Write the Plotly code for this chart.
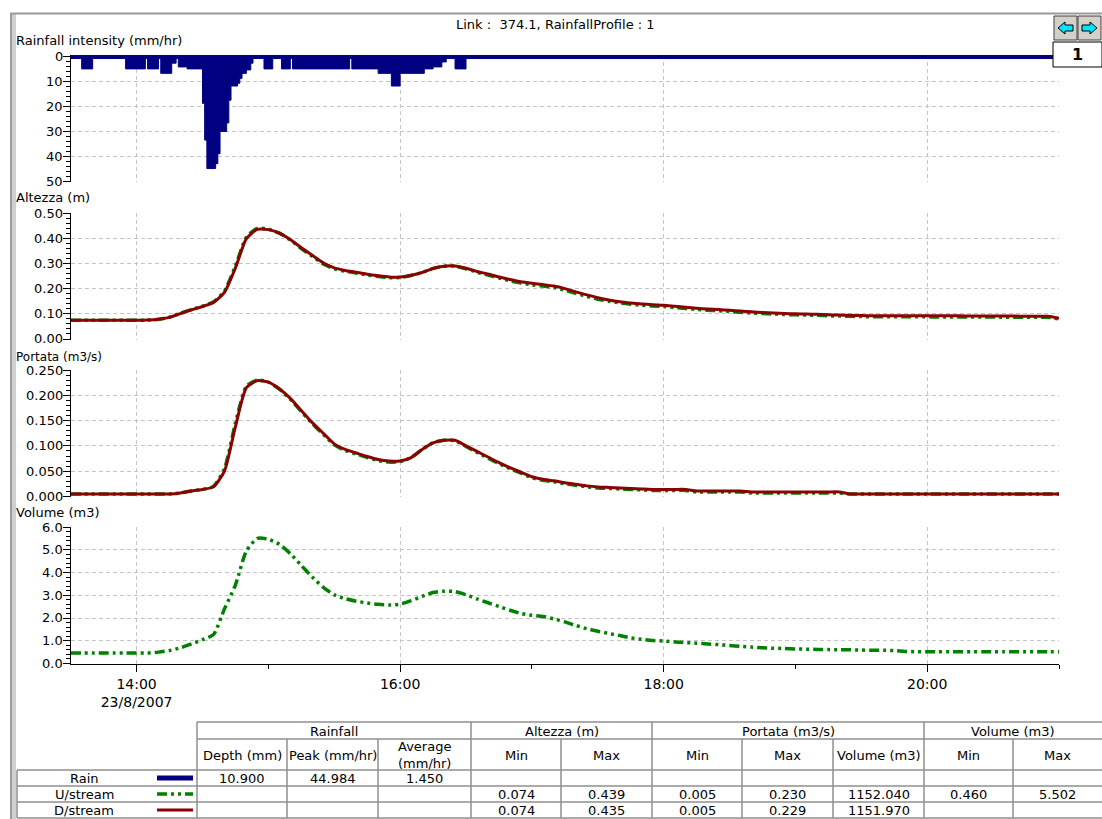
import pandas as pd
import plotly.graph_objects as go

W, H = 1102, 819
DAY = "2007-08-23 "
FONT = "DejaVu Sans"

# ---------------- data ----------------
# Rainfall profile: each intensity (mm/hr) holds from its start time to the next one
rain_start = ["13:30", "13:35", "13:40", "13:55", "14:04", "14:05", "14:10", "14:11",
              "14:16", "14:18", "14:19", "14:23", "14:30", "14:31", "14:32", "14:36",
              "14:37", "14:38", "14:41", "14:42", "14:43", "14:46", "14:47", "14:48",
              "14:50", "14:52", "14:53", "14:58", "15:02", "15:06", "15:10", "15:11",
              "15:37", "15:38", "15:50", "15:56", "16:00", "16:11", "16:15", "16:19",
              "16:21", "16:25", "16:30", "21:00"]
rain_mmhr = [0, 4.8, 0, 4.8, 0, 4.8, 0, 6.6,
             2.5, 0, 4.0, 4.8, 18.7, 33.5, 44.984, 43.0,
             39.0, 30.0, 26.6, 17.4, 11.7, 10.6, 8.6, 6.6,
             5.2, 2.5, 0, 4.8, 0, 4.8, 0, 4.8,
             0, 4.8, 6.6, 11.7, 6.6, 4.8, 4.0, 2.0,
             0, 4.8, 0, 0]

# Simulation results every 5 minutes, 13:30 - 21:00
flow_time = pd.date_range(DAY + "13:30", DAY + "21:00", freq="5min")

depth_us = [0.074, 0.074, 0.074, 0.074, 0.074, 0.074, 0.074, 0.075, 0.078, 0.087,
            0.102, 0.117, 0.130, 0.147, 0.190, 0.290, 0.404, 0.439, 0.436, 0.420,
            0.393, 0.359, 0.328, 0.298, 0.278, 0.269, 0.262, 0.254, 0.248, 0.243,
            0.244, 0.252, 0.264, 0.280, 0.289, 0.289, 0.279, 0.265, 0.254, 0.242,
            0.231, 0.222, 0.215, 0.210, 0.204, 0.194, 0.181, 0.169, 0.158, 0.150,
            0.143, 0.138, 0.134, 0.131, 0.129, 0.125, 0.121, 0.117, 0.114, 0.112,
            0.109, 0.106, 0.103, 0.101, 0.099, 0.097, 0.096, 0.095, 0.094, 0.092,
            0.091, 0.090, 0.089, 0.088, 0.088, 0.088, 0.088, 0.088, 0.088, 0.087,
            0.087, 0.087, 0.087, 0.087, 0.087, 0.086, 0.086, 0.086, 0.086, 0.086,
            0.080]
depth_ds = [0.074, 0.074, 0.074, 0.074, 0.074, 0.074, 0.074, 0.075, 0.078, 0.086,
            0.101, 0.116, 0.129, 0.145, 0.185, 0.282, 0.398, 0.435, 0.434, 0.420,
            0.395, 0.362, 0.332, 0.302, 0.282, 0.272, 0.265, 0.257, 0.251, 0.246,
            0.246, 0.253, 0.264, 0.280, 0.289, 0.290, 0.281, 0.268, 0.258, 0.246,
            0.236, 0.227, 0.221, 0.216, 0.210, 0.200, 0.187, 0.175, 0.164, 0.155,
            0.148, 0.143, 0.139, 0.136, 0.134, 0.130, 0.126, 0.122, 0.119, 0.117,
            0.114, 0.111, 0.108, 0.105, 0.103, 0.101, 0.100, 0.099, 0.098, 0.096,
            0.095, 0.094, 0.093, 0.092, 0.092, 0.092, 0.092, 0.092, 0.092, 0.092,
            0.092, 0.092, 0.091, 0.091, 0.091, 0.091, 0.091, 0.090, 0.090, 0.090,
            0.082]

flow_us = [0.005, 0.005, 0.005, 0.005, 0.005, 0.005, 0.005, 0.005, 0.005, 0.005,
           0.007, 0.011, 0.014, 0.020, 0.055, 0.145, 0.218, 0.230, 0.226, 0.212,
           0.192, 0.168, 0.144, 0.123, 0.102, 0.091, 0.084, 0.077, 0.071, 0.068,
           0.069, 0.077, 0.093, 0.106, 0.111, 0.110, 0.099, 0.087, 0.076, 0.065,
           0.055, 0.046, 0.037, 0.032, 0.029, 0.025, 0.022, 0.019, 0.017, 0.016,
           0.015, 0.014, 0.013, 0.012, 0.012, 0.012, 0.012, 0.009, 0.009, 0.009,
           0.009, 0.009, 0.007, 0.007, 0.007, 0.007, 0.007, 0.007, 0.007, 0.007,
           0.007, 0.005, 0.005, 0.005, 0.005, 0.005, 0.005, 0.005, 0.005, 0.005,
           0.005, 0.005, 0.005, 0.005, 0.005, 0.005, 0.005, 0.005, 0.005, 0.005,
           0.005]
flow_ds = [0.005, 0.005, 0.005, 0.005, 0.005, 0.005, 0.005, 0.005, 0.005, 0.005,
           0.007, 0.011, 0.014, 0.019, 0.050, 0.138, 0.215, 0.229, 0.226, 0.213,
           0.194, 0.170, 0.146, 0.125, 0.104, 0.093, 0.086, 0.079, 0.073, 0.070,
           0.070, 0.077, 0.093, 0.106, 0.111, 0.111, 0.100, 0.089, 0.078, 0.067,
           0.057, 0.048, 0.039, 0.034, 0.031, 0.027, 0.024, 0.021, 0.019, 0.018,
           0.017, 0.016, 0.015, 0.014, 0.014, 0.014, 0.014, 0.011, 0.011, 0.011,
           0.011, 0.011, 0.009, 0.009, 0.009, 0.009, 0.009, 0.009, 0.009, 0.009,
           0.009, 0.005, 0.005, 0.005, 0.005, 0.005, 0.005, 0.005, 0.005, 0.005,
           0.005, 0.005, 0.005, 0.005, 0.005, 0.005, 0.005, 0.005, 0.005, 0.005,
           0.005]

volume_us = [0.46, 0.46, 0.46, 0.46, 0.46, 0.46, 0.46, 0.46, 0.50, 0.57,
             0.69, 0.86, 1.05, 1.27, 2.40, 3.45, 4.95, 5.502, 5.46, 5.24,
             4.83, 4.31, 3.80, 3.35, 3.02, 2.85, 2.74, 2.66, 2.60, 2.57,
             2.61, 2.76, 2.95, 3.12, 3.18, 3.16, 3.02, 2.84, 2.67, 2.51,
             2.34, 2.20, 2.12, 2.07, 1.96, 1.83, 1.67, 1.53, 1.42, 1.32,
             1.23, 1.13, 1.06, 1.01, 0.99, 0.95, 0.92, 0.89, 0.86, 0.83,
             0.79, 0.75, 0.72, 0.69, 0.67, 0.66, 0.64, 0.63, 0.62, 0.61,
             0.60, 0.60, 0.59, 0.58, 0.58, 0.57, 0.53, 0.52, 0.52, 0.52,
             0.52, 0.52, 0.52, 0.52, 0.52, 0.52, 0.52, 0.52, 0.52, 0.52,
             0.52]

# Axis ticks
major_hours = ["14:00", "16:00", "18:00", "20:00"]
major_text = ["14:00<br>23/8/2007", "16:00", "18:00", "20:00"]
minor_hours = ["15:00", "17:00", "19:00", "21:00"]
rain_ticks = [0, 10, 20, 30, 40, 50]
depth_ticks = [0.0, 0.1, 0.2, 0.3, 0.4, 0.5]
flow_ticks = [0.0, 0.05, 0.10, 0.15, 0.20, 0.25]
volume_ticks = [0, 1, 2, 3, 4, 5, 6]

# Summary table
rain_summary = ["10.900", "44.984", "1.450"]
us_summary = ["0.074", "0.439", "0.005", "0.230", "1152.040", "0.460", "5.502"]
ds_summary = ["0.074", "0.435", "0.005", "0.229", "1151.970", "", ""]
group_heads = ["Rainfall", "Altezza (m)", "Portata (m3/s)", "Volume (m3)"]
col_heads = ["Depth (mm)", "Peak (mm/hr)", "Average<br>(mm/hr)", "Min", "Max",
             "Min", "Max", "Volume (m3)", "Min", "Max"]
row_labels = ["Rain", "U/stream", "D/stream"]

# ---------------- styling ----------------
NAVY = "#000080"
GREEN = "#008000"
RED = "#8b0000"
GRID = "#c4c4c4"
DASHDOT = "10px,4px,3px,4px,3px,4px"


def px(x):
    return x / W


def py(y):
    return 1 - y / H


def ts(hhmm):
    return pd.Timestamp(DAY + hhmm)


X_LEFT, X_RIGHT = 70.7, 1059
# panel vertical extents in page pixels (top, bottom)
panels = [(55, 181.5), (212.5, 339.5), (369.5, 497), (526.5, 664)]

fig = go.Figure()

rain_t = [ts(s) for s in rain_start]
fig.add_trace(go.Scatter(x=rain_t, y=rain_mmhr, mode="lines", line_shape="hv",
                         line=dict(color=NAVY, width=1), fill="tozeroy",
                         fillcolor=NAVY, xaxis="x", yaxis="y", hoverinfo="skip"))
fig.add_trace(go.Scatter(x=[ts("13:30"), ts("21:00")], y=[0, 0], mode="lines",
                         line=dict(color=NAVY, width=4), xaxis="x", yaxis="y",
                         hoverinfo="skip"))

for ys, yax in [((depth_us, depth_ds), "y2"), ((flow_us, flow_ds), "y3")]:
    xa = "x" + yax[1:]
    fig.add_trace(go.Scatter(x=flow_time, y=ys[0], mode="lines",
                             line=dict(color=GREEN, width=3.5, dash=DASHDOT,
                                       shape="spline", smoothing=0.6),
                             xaxis=xa, yaxis=yax, hoverinfo="skip"))
    fig.add_trace(go.Scatter(x=flow_time, y=ys[1], mode="lines",
                             line=dict(color=RED, width=3, shape="spline", smoothing=0.6),
                             xaxis=xa, yaxis=yax, hoverinfo="skip"))

fig.add_trace(go.Scatter(x=flow_time, y=volume_us, mode="lines",
                         line=dict(color=GREEN, width=3.5, dash=DASHDOT,
                                   shape="spline", smoothing=0.6),
                         xaxis="x4", yaxis="y4", hoverinfo="skip"))

tick_font = dict(family=FONT, size=14, color="black")
ylab_font = dict(family=FONT, size=13, color="black")
xrange = [ts("13:30"), ts("21:00")]
major_vals = [ts(h) for h in major_hours]
minor_vals = [ts(h) for h in minor_hours]

y_specs = [
    dict(range=[50.2, -0.8], tickvals=rain_ticks, fmt="{:d}", minor_dtick=2),
    dict(range=[-0.002, 0.502], tickvals=depth_ticks, fmt="{:.2f}", minor_dtick=0.02),
    dict(range=[-0.001, 0.251], tickvals=flow_ticks, fmt="{:.3f}", minor_dtick=0.01),
    dict(range=[-0.022, 6.022], tickvals=volume_ticks, fmt="{:.1f}", minor_dtick=0.2),
]

layout = dict(
    width=W, height=H, margin=dict(l=0, r=0, t=0, b=0, pad=0, autoexpand=False),
    paper_bgcolor="white", plot_bgcolor="white", showlegend=False,
    font=dict(family=FONT, size=13, color="black"),
)

ann = []
tick_labels = []

for i, ((top, bot), spec) in enumerate(zip(panels, y_specs), start=1):
    suffix = "" if i == 1 else str(i)
    last = i == 4
    layout["xaxis" + suffix] = dict(
        domain=[px(X_LEFT), px(X_RIGHT)], range=xrange, type="date",
        anchor="y" + suffix, matches=None if last else "x4",
        tickmode="array", tickvals=major_vals,
        ticktext=major_text if last else [""] * 4,
        showticklabels=last, ticks="outside" if last else "",
        ticklen=7, tickcolor="black", tickfont=tick_font,
        showgrid=True, gridcolor=GRID, griddash="4px,3px", gridwidth=1,
        showline=last, linecolor="black", linewidth=1, zeroline=False,
        automargin=False,
        minor=dict(tickmode="array", tickvals=minor_vals, ticks="outside",
                   ticklen=4, tickcolor="black", showgrid=False) if last else None,
    )
    layout["yaxis" + suffix] = dict(
        domain=[py(bot), py(top)], range=spec["range"], anchor="x" + suffix,
        tickmode="array", tickvals=spec["tickvals"], showticklabels=False,
        ticks="outside", ticklen=7, tickcolor="black",
        showline=True, linecolor="black", linewidth=1, zeroline=False,
        showgrid=True, gridcolor=GRID, griddash="4px,3px", gridwidth=1,
        automargin=False,
        minor=dict(dtick=spec["minor_dtick"], tick0=0, ticks="outside", ticklen=4,
                   tickcolor="black", showgrid=False),
    )
    # value labels beside the major ticks, positioned through the axis' linear scale
    r0, r1 = spec["range"]
    d0, d1 = py(bot), py(top)
    for v in spec["tickvals"]:
        yp = d0 + (v - r0) / (r1 - r0) * (d1 - d0)
        tick_labels.append(dict(x=px(X_LEFT - 8), y=yp, xref="paper", yref="paper",
                                text=spec["fmt"].format(v), showarrow=False,
                                xanchor="right", yanchor="middle", borderpad=0,
                                borderwidth=0, font=ylab_font))

layout["xaxis"]["matches"] = "x4"
layout["xaxis"]["anchor"] = "y"

fig.update_layout(**layout)

# ---------------- annotations ----------------


def text(x, y, s, size=13, anchor="center", **kw):
    ann.append(dict(x=px(x), y=py(y), xref="paper", yref="paper", text=s,
                    showarrow=False, xanchor=anchor, yanchor="middle",
                    borderpad=0, borderwidth=0,
                    font=dict(family=FONT, size=size, color="black"), **kw))


text(555, 24, "Link :\u00a0 374.1, RainfallProfile : 1")
text(16, 40, "Rainfall intensity (mm/hr)", anchor="left")
text(16, 197, "Altezza (m)", anchor="left")
text(16, 357, "Portata (m3/s)", anchor="left", size=12)
text(16, 512, "Volume (m3)", anchor="left")

# table
shapes = []
LINE = "#8f8f8f"


def hline(x0, x1, y, color=LINE, width=1.5):
    shapes.append(dict(type="line", xref="paper", yref="paper", x0=px(x0), x1=px(x1),
                       y0=py(y), y1=py(y), line=dict(color=color, width=width)))


def vline(x, y0, y1, color=LINE, width=1.5):
    shapes.append(dict(type="line", xref="paper", yref="paper", x0=px(x), x1=px(x),
                       y0=py(y0), y1=py(y1), line=dict(color=color, width=width)))


T_TOP, T_MID, T_HEAD, T_BOT = 722, 739, 770, 818
row_y = [770, 786, 802, 818]
group_x = [197, 471, 652, 924, 1102]
col_x = [197, 287, 378, 471, 561, 652, 742, 833, 924, 1013, 1102]

hline(197, 1102, T_TOP)
hline(197, 1102, T_MID)
for y in row_y:
    hline(17, 1102, y)
vline(17, T_HEAD, T_BOT)
for x in group_x[:-1]:
    vline(x, T_TOP, T_BOT)
for x in col_x[1:-1]:
    if x not in group_x:
        vline(x, T_MID, T_BOT)

for g, (a, b) in zip(group_heads, zip(group_x[:-1], group_x[1:])):
    text((a + b) / 2, 731, g)
for c, (a, b) in zip(col_heads, zip(col_x[:-1], col_x[1:])):
    text((a + b) / 2, 755, c)

centres = [(a + b) / 2 for a, b in zip(col_x[:-1], col_x[1:])]
row_mid = [(a + b) / 2 for a, b in zip(row_y[:-1], row_y[1:])]
for lab, ym in zip(row_labels, row_mid):
    text(84, ym, lab)
for v, xc in zip(rain_summary, centres[:3]):
    text(xc, row_mid[0], v)
for v, xc in zip(us_summary, centres[3:]):
    text(xc, row_mid[1], v)
for v, xc in zip(ds_summary, centres[3:]):
    if v:
        text(xc, row_mid[2], v)

# legend swatches in the table
shapes.append(dict(type="line", xref="paper", yref="paper", x0=px(157), x1=px(193),
                   y0=py(row_mid[0]), y1=py(row_mid[0]), line=dict(color=NAVY, width=5)))
shapes.append(dict(type="line", xref="paper", yref="paper", x0=px(157), x1=px(193),
                   y0=py(row_mid[1]), y1=py(row_mid[1]),
                   line=dict(color=GREEN, width=3.5, dash=DASHDOT)))
shapes.append(dict(type="line", xref="paper", yref="paper", x0=px(157), x1=px(193),
                   y0=py(row_mid[2]), y1=py(row_mid[2]), line=dict(color=RED, width=3)))

# window frame
shapes.append(dict(type="rect", xref="paper", yref="paper", x0=px(10), x1=px(16),
                   y0=py(819), y1=py(13), fillcolor="#cfcfcf", line=dict(width=0),
                   layer="below"))
vline(11, 13, 819, color="#8a8a8a", width=1.5)
hline(10, 1102, 13.5, color="#9a9a9a", width=2)

# page buttons and counter
for bx0 in (1054, 1078):
    shapes.append(dict(type="rect", xref="paper", yref="paper", x0=px(bx0), x1=px(bx0 + 23),
                       y0=py(40), y1=py(16), fillcolor="#d4d0c8",
                       line=dict(color="#404040", width=1), layer="above"))


def arrow_path(xs):
    pts = [(xs[0], 28), (xs[1], 22), (xs[1], 25), (xs[2], 25), (xs[2], 31), (xs[1], 31), (xs[1], 34)]
    return "M " + " L ".join(f"{px(a):.5f},{py(b):.5f}" for a, b in pts) + " Z"


shapes.append(dict(type="path", xref="paper", yref="paper",
                   path=arrow_path((1058, 1065, 1073)), fillcolor="#00e5ff",
                   line=dict(color="black", width=1), layer="above"))
shapes.append(dict(type="path", xref="paper", yref="paper",
                   path=arrow_path((1097, 1090, 1082)), fillcolor="#00e5ff",
                   line=dict(color="black", width=1), layer="above"))
shapes.append(dict(type="rect", xref="paper", yref="paper", x0=px(1053), x1=px(1102),
                   y0=py(67), y1=py(42), fillcolor="white",
                   line=dict(color="black", width=1), layer="above"))
text(1077, 55, "<b>1</b>", size=16)

# axis value labels go last so they sit on top of everything else
fig.update_layout(annotations=ann + tick_labels, shapes=shapes)
fig.write_html("out.html", config={"displayModeBar": False})
